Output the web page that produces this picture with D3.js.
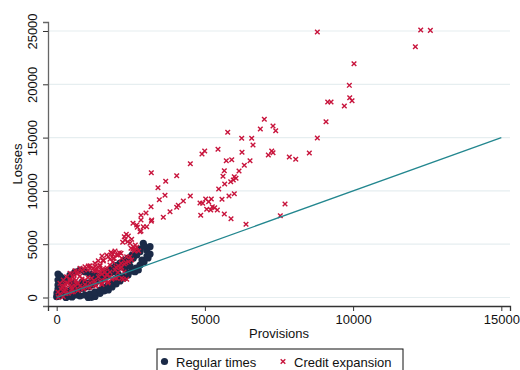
<!DOCTYPE html>
<html>
<head>
<meta charset="utf-8">
<script src="https://cdn.jsdelivr.net/npm/d3@7"></script>
<style>
  html, body { margin: 0; padding: 0; background: #fff; }
  svg { display: block; font-family: "Liberation Sans", Arial, Helvetica, sans-serif; }
</style>
</head>
<body>
<svg id="chart" width="520" height="370"></svg>
<script>
// Provisions vs. losses, by period type: [provisions, losses]
const regularTimes = [
  [3148,4765],[2922,5084],[3037,4456],[2811,4296],[2699,3987],[2584,3677],[2473,3518],[2362,3264],
  [2247,3049],[2136,2889],[2024,2645],[1910,2420],[1798,2270],[1687,2017],[1572,1801],[1461,1642],
  [2642,2420],[2753,2580],[2574,2580],[1967,2739],[1798,2420],[1630,2111],[1518,1951],[1404,1642],
  [1292,1332],[1181,1173],[1066,1013],[897,863],[729,704],[617,544],[449,394],[280,235],[111,235],[0,75],
  [44,2204],[111,2017],[179,1829],[44,1642],[145,1454],[44,1173],[179,985],[44,797],[145,610],[10,422],
  [213,328],[78,141],[111,1266],[213,1642],
  [1066,0],[1181,20],[1292,94],[1461,394],[1596,610],[1741,704],[1866,985],[2001,1266],[2136,1548],
  [2271,1829],[2406,2111],[786,141],[516,47],[314,0],
  [449,2111],[617,2392],[786,2580],[955,2392],[1124,2204],[1292,2111],[348,1642],[516,1360],[685,1173],[854,1454],
  [2304,2767],[2068,2204],[2473,2955],[2878,3518],[3047,3893],
  [381,610],[516,797],[651,985],[786,1126],[921,1266],[1056,1360],[1191,1548],[1326,1782],[1461,2017],
  [1596,2298],[1731,2533],[1866,2767],[2001,3002],[2136,3236],[2271,3471],[2406,3705],[2541,3987],
  [2676,4268],[2811,4550],[2946,4831],
  [449,141],[617,235],[955,235],[1124,328],[1292,516],[1461,704],[1596,938],[1731,1173],[1866,1360],
  [2001,1548],[2136,1782],[2271,2017],[2406,2298],[2541,2486],[2676,2767],[2811,3049],[2946,3330],
  [3081,3705],[3148,4080]
];

const creditExpansion = [
  [8793,24900],[12281,25090],[12606,25060],[12100,23525],[10031,21930],[9873,19904],[9143,18338],[9255,18338],
  [9886,18741],[9964,18460],[9704,17963],[9086,16490],[8793,14961],
  [7005,16715],[7298,16087],[7389,15646],[6870,15805],[6579,14933],[6623,14305],[6522,12832],[7254,13742],
  [7298,13582],[7140,13367],[7848,13179],[8064,12963],[8523,13554],[7703,8770],[7544,7673],[6387,6866],
  [5770,15496],[6242,14933],[5442,13901],[4902,13460],[4993,13742],[6252,13620],[5722,12832],[5905,12925],
  [4508,12550],[6330,12400],[6151,11866],[5655,11894],[3192,11706],[4049,11425],[5611,11369],[5992,11331],
  [6050,11181],[5958,11022],[3678,10900],[5871,10862],[5668,10646],[3418,10299],[5466,10177],[3654,9586],
  [3462,9174],[4508,9521],[5813,9521],[5992,9736],[4272,9052],[5027,9239],[5216,9239],[5577,9211],
  [4835,8864],[4925,8836],[5128,8986],[5250,8517],[5331,8423],[4103,8648],[4049,8461],[5061,8273],
  [5196,8207],[3823,8048],[3182,8517],[5419,8207],[4859,7710],[5655,7832],[5881,7391],[3597,7523],
  [3013,7926],[2844,7710],[2844,7270],[3192,7148],[2574,6960],[2699,6800],[2720,6585],[3036,6641],
  [3205,7270],[2922,6641],[2811,6172],
  [2348,5928],[2416,5769],[2281,5703],[2304,5394],[2396,5234],[2227,5178],[2473,5084],[2652,4925],
  [2564,4521],[2699,4709],[2618,4362],[2767,4362],[1967,4362],[1832,4240],[1889,4052],[2024,3987],
  [2112,4202],[1741,3827],[1798,3583],[1943,3677],[2170,4146],[1572,3424],[1461,2955],[1528,3893],
  [2844,6238],[2530,5459],[2584,4765],[2507,4615],[2642,4456],
  [1687,3987],[1856,4146],[2078,3987],[2193,3677],[1910,3677],[1572,3518],[2362,3827],
  [1292,3208],[1404,3452],[1235,2739],[1461,3049],
  [2024,1801],[2193,1801],[2362,1707],[1798,1951],[2247,1707],
  [111,1332],[223,1642],[337,1951],[449,2270],[617,2514],[786,2739],[955,2889],[1124,2983],[1292,2955],
  [1404,2833],[1539,2645],[1630,2392],[1687,2111],
  [280,704],[506,1013],[729,1332],[955,1642],[1181,1801],[1404,1951],[1630,1895],
  [54,0],[223,75],[391,394],[560,544],[729,704],[897,863],[1066,1013],[1292,1173],[1518,1332],[1741,1482],[1856,1707],
  [179,985],[381,1360],[584,1735],[786,2017],[1326,2486],[1461,2298],[651,1595],[854,1735],[1056,1876],
  [1258,1595],[449,1173],[651,1360],[314,891],[516,797],[786,1079],[1124,1360],[1461,1548],[1630,1595],
  [246,516],[111,328],[449,1735],[584,2111],[719,2392],[921,2626],[1124,2720],[1326,2673],[1528,2204],
  [2473,3827],[2530,3518],[2416,3358],[2338,3264],[2281,3142],[2170,3208],[2078,2955],[2193,2833],[2001,2833],
  [1066,2955],
  [44,516],[145,797],[246,1079],[348,1360],[449,1548],[550,1923],[685,2204],[854,2486],[1056,2580],
  [1258,2533],[1427,2486],[1562,2580],[1697,2767],[1798,3049],[1900,3330],
  [314,375],[516,516],[719,657],[921,797],[1124,938],[1326,1079],[1528,1219],[1731,1360],
  [280,1266],[617,1079],[955,1219],[1292,1454],[1630,1548],[1967,1829],[1798,2392],[1967,2580],
  [2136,2767],[2068,2345],[2271,2392]
];

// 45-degree reference line, provisions = losses
const refLine = [[0,0],[15000,15000]];

const xTicks = [0, 5000, 10000, 15000];
const yTicks = [0, 5000, 10000, 15000, 20000, 25000];
const seriesNames = ["Regular times", "Credit expansion"];

const colors = { regular: "#1b2a47", credit: "#c8143c", line: "#23878f", grid: "#e6eef0" };

const svg = d3.select("#chart");

const x = d3.scaleLinear().domain([-293, 15293]).range([48, 510]);
const y = d3.scaleLinear().domain([-797, 25844]).range([306, 22]);

// horizontal grid
svg.append("g")
  .selectAll("line")
  .data(yTicks)
  .join("line")
  .attr("x1", x.range()[0]).attr("x2", x.range()[1])
  .attr("y1", d => y(d)).attr("y2", d => y(d))
  .attr("stroke", colors.grid).attr("stroke-width", 1.2);

// y axis
const yAxis = svg.append("g")
  .attr("transform", `translate(${x.range()[0]},0)`)
  .call(d3.axisLeft(y).tickValues(yTicks).tickSize(5).tickPadding(3).tickFormat(d3.format("d")));
yAxis.select(".domain").attr("stroke", "#666").attr("stroke-width", 1.3);
yAxis.selectAll(".tick line").attr("stroke", "#333");
yAxis.selectAll(".tick text")
  .attr("font-size", 13).attr("fill", "#111")
  .attr("transform", "rotate(-90)")
  .attr("x", 0).attr("y", -11)
  .attr("text-anchor", "middle").attr("dy", 0);

// x axis
const xAxis = svg.append("g")
  .attr("transform", `translate(0,${y.range()[0]})`)
  .call(d3.axisBottom(x).tickValues(xTicks).tickSize(5).tickPadding(4).tickFormat(d3.format("d")));
xAxis.select(".domain").attr("stroke", "#333").attr("stroke-width", 1.3);
xAxis.selectAll(".tick line").attr("stroke", "#333");
xAxis.selectAll(".tick text").attr("font-size", 13).attr("fill", "#111");

// axis titles
svg.append("text")
  .attr("transform", `translate(22,${(y.range()[0] + y.range()[1]) / 2}) rotate(-90)`)
  .attr("text-anchor", "middle").attr("font-size", 13).attr("fill", "#111")
  .text("Losses");
svg.append("text")
  .attr("x", (x.range()[0] + x.range()[1]) / 2).attr("y", 338)
  .attr("text-anchor", "middle").attr("font-size", 13).attr("fill", "#111")
  .text("Provisions");

// regular-times points
svg.append("g")
  .selectAll("circle")
  .data(regularTimes)
  .join("circle")
  .attr("cx", d => x(d[0])).attr("cy", d => y(d[1]))
  .attr("r", 3.6)
  .attr("fill", colors.regular);

// credit-expansion points as crosses
const cross = (cx, cy, s) => `M${cx - s},${cy - s}L${cx + s},${cy + s}M${cx - s},${cy + s}L${cx + s},${cy - s}`;
svg.append("g")
  .selectAll("path")
  .data(creditExpansion)
  .join("path")
  .attr("d", d => cross(x(d[0]), y(d[1]), 2.3))
  .attr("stroke", colors.credit).attr("stroke-width", 1.4).attr("fill", "none");

// reference line
svg.append("path")
  .datum(refLine)
  .attr("d", d3.line().x(d => x(d[0])).y(d => y(d[1])))
  .attr("stroke", colors.line).attr("stroke-width", 1.3).attr("fill", "none");

// legend
const legend = svg.append("g");
legend.append("rect")
  .attr("x", 157).attr("y", 349).attr("width", 246).attr("height", 28)
  .attr("fill", "#fff").attr("stroke", "#111").attr("stroke-width", 1);
legend.append("circle")
  .attr("cx", 164.5).attr("cy", 361.5).attr("r", 3.6).attr("fill", colors.regular);
legend.append("text")
  .attr("x", 176).attr("y", 366.5).attr("font-size", 13).attr("fill", "#111")
  .text(seriesNames[0]);
legend.append("path")
  .attr("d", cross(283, 361.5, 2.3))
  .attr("stroke", colors.credit).attr("stroke-width", 1.4).attr("fill", "none");
legend.append("text")
  .attr("x", 294).attr("y", 366.5).attr("font-size", 13).attr("fill", "#111")
  .text(seriesNames[1]);
</script>
</body>
</html>
